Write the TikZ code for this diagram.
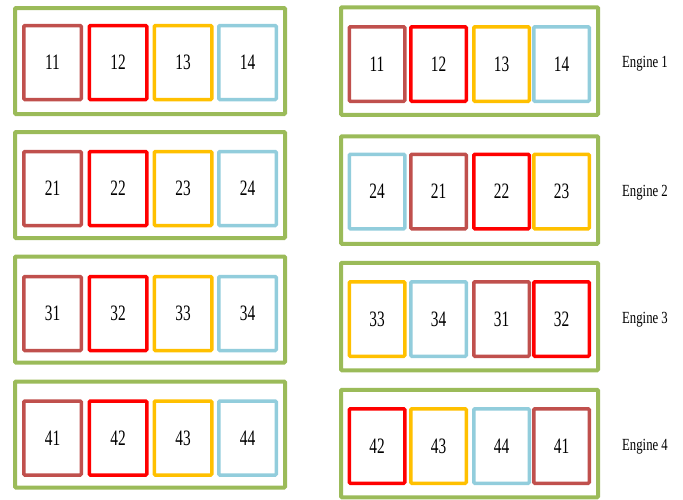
\documentclass[tikz,border=0pt]{standalone}
\usepackage{fontspec}
\setmainfont{Liberation Serif}
\definecolor{cA}{HTML}{C0504D}
\definecolor{cB}{HTML}{FF0000}
\definecolor{cC}{HTML}{FFC000}
\definecolor{cD}{HTML}{92CDDC}
\definecolor{grn}{HTML}{9BBB59}
\tikzset{
  engbox/.style={draw=grn, line width=4pt, rounded corners=1pt, minimum width=#1, minimum height=106pt, inner sep=0pt},
  cell/.style={draw=#1, line width=3.5pt, rounded corners=1pt, minimum height=74pt, inner sep=0pt, fill=white},
  num/.style={font=\fontsize{22}{22}\selectfont, xscale=0.7},
  englabel/.style={font=\fontsize{17}{17}\selectfont, xscale=0.75, inner sep=0pt},
}
\begin{document}
\begin{tikzpicture}[x=1pt,y=-1pt]
\useasboundingbox (0,0) rectangle (683,499);
% left column
\foreach \r/\oy/\cy in {1/61/62.5, 2/185/188.5, 3/309.5/313.5, 4/434.5/438}{
  \node[engbox=270pt] (L\r) at (150,\oy) {};
  \foreach \c/\cx/\col in {1/52.5/cA, 2/118/cB, 3/183/cC, 4/247.5/cD}{
    \node[cell=\col, minimum width=57.5pt] (L\r\c) at (\cx,\cy) {};
    \node[num] (tL\r\c) at (L\r\c.center) {\r\c};
  }
}
% right column
\foreach \r/\oy/\cy/\a/\b/\cc/\d in {1/61/64/1/2/3/4, 2/190/191.5/4/1/2/3, 3/316.5/319/3/4/1/2, 4/443.5/446/2/3/4/1}{
  \node[engbox=257pt, minimum height=107.5pt] (R\r) at (469.5,\oy) {};
  \foreach \c/\cx/\k in {1/377/\a, 2/438.5/\b, 3/501.5/\cc, 4/561.5/\d}{
    \ifcase\k\or\def\col{cA}\or\def\col{cB}\or\def\col{cC}\or\def\col{cD}\fi
    \node[cell=\col, minimum width=55.5pt, minimum height=74.5pt] (R\r\c) at (\cx,\cy) {};
    \node[num] (tR\r\c) at (R\r\c.center) {\r\k};
  }
  \node[englabel] (E\r) at (645,\oy+3) {Engine \r};
}
\end{tikzpicture}
\end{document}
